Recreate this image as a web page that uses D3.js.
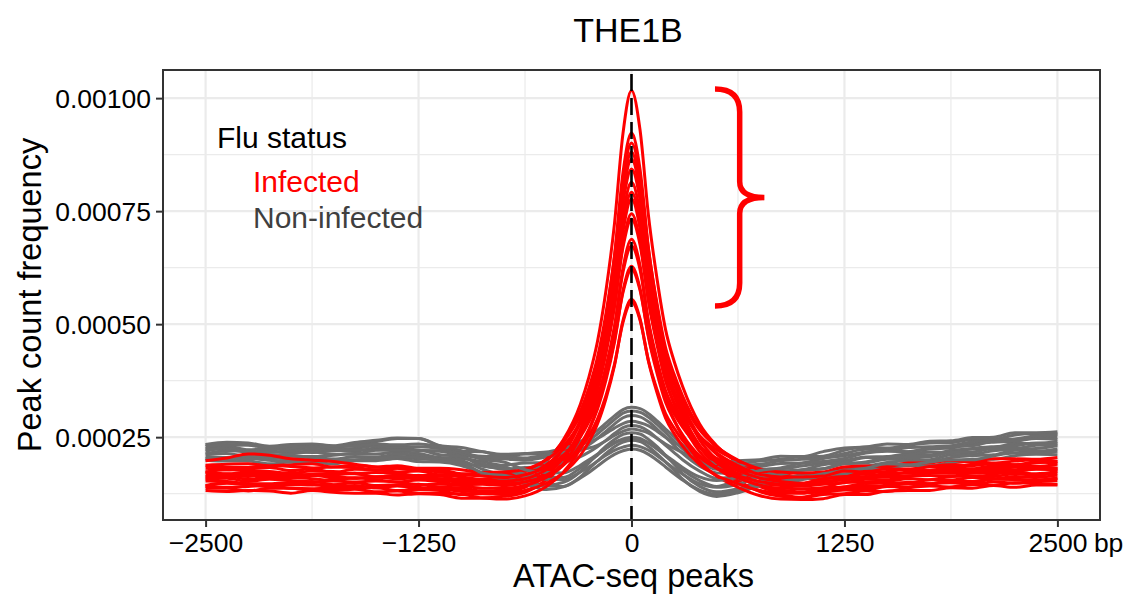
<!DOCTYPE html>
<html>
<head>
<meta charset="utf-8">
<script src="https://cdn.jsdelivr.net/npm/d3@7"></script>
<style>
body { margin: 0; background: #fff; }
text { font-family: "Liberation Sans", Arial, Helvetica, sans-serif; }
</style>
</head>
<body>
<svg id="chart" width="1126" height="597"></svg>
<script>
// distance from the peak centre (bp) at which every profile is sampled
var positions = [-2500,-2375,-2250,-2125,-2000,-1875,-1750,-1625,-1500,-1375,-1250,-1125,-1000,-875,-750,
  -625,-500,-400,-300,-250,-200,-150,-100,-50,0,50,100,150,200,250,300,400,500,625,750,875,
  1000,1125,1250,1375,1500,1625,1750,1875,2000,2125,2250,2375,2500];

// peak count frequency values are written in units of 1e-5
var UNIT = 1e-5;

// infected samples (red)
var inf01 = [17.3,16.9,17.3,16.9,17.0,16.5,16.7,17.0,16.2,16.6,16.2,16.4,15.4,15.4,15.4, 16.5,19.7,24.4,32.3,38.3,46.1,57.4,72.2,92.2,101.7,93.0,73.9,60.0,48.8,41.8,36.2,27.9,23.1,19.3,16.7,15.5, 14.8,15.8,16.1,16.9,16.5,17.3,17.2,17.9,17.7,18.2,17.8,18.3,18.1];
var inf02 = [14.3,14.9,14.5,14.1,14.5,14.4,14.4,14.0,14.1,14.3,13.5,13.7,13.0,13.1,12.9, 13.9,16.8,21.2,28.4,34.0,41.2,51.6,65.1,83.5,92.3,84.3,66.7,53.9,43.6,37.2,32.0,24.4,20.0,16.5,14.1,12.9, 12.7,12.9,14.0,13.7,14.4,15.0,14.7,15.3,15.2,15.8,15.6,15.4,16.0];
var inf03 = [18.1,17.8,18.1,18.3,17.6,18.0,17.2,17.9,17.8,17.3,17.5,16.7,16.7,16.5,16.4, 17.3,20.0,24.1,30.7,35.9,42.6,52.3,64.9,81.9,90.1,82.7,66.4,54.5,44.8,38.9,34.1,27.0,22.9,19.7,17.4,16.4, 15.9,16.7,16.9,17.7,18.1,17.9,18.5,18.3,19.0,19.1,18.9,19.5,19.2];
var inf04 = [13.7,13.7,13.1,13.7,13.7,13.2,13.2,13.5,12.9,13.1,12.6,12.6,12.4,11.6,11.9, 12.8,15.6,19.8,26.7,32.1,39.0,49.0,62.0,79.7,88.1,80.4,63.6,51.3,41.3,35.2,30.2,22.9,18.7,15.3,13.0,11.9, 11.6,12.3,12.5,13.1,13.0,13.8,14.2,14.0,14.5,14.3,14.9,14.8,14.6];
var inf05 = [16.2,16.8,16.7,16.3,16.4,16.7,16.0,15.9,16.2,16.0,16.1,15.3,15.3,14.9,14.9, 15.7,18.4,22.3,28.8,33.9,40.4,49.7,62.0,78.6,86.5,79.3,63.4,51.9,42.5,36.8,32.1,25.2,21.2,18.1,15.9,14.9, 14.7,14.8,15.8,16.3,16.2,16.3,17.1,17.2,17.1,17.8,17.5,17.9,17.9];
var inf06 = [18.7,18.3,18.3,18.8,18.5,18.2,18.4,18.3,17.7,18.1,17.7,17.8,16.9,16.9,16.8, 17.7,20.1,23.9,30.0,34.7,40.8,49.7,61.2,76.8,84.3,77.5,62.6,51.7,42.9,37.4,33.0,26.6,22.9,19.9,17.8,16.8, 16.3,17.1,18.0,17.8,18.5,18.7,18.6,19.3,19.6,19.3,19.7,20.0,19.7];
var inf07 = [15.3,15.2,14.7,14.7,15.0,15.2,14.5,14.9,14.3,14.5,14.6,13.9,13.8,13.1,13.3, 14.2,16.7,20.4,26.6,31.4,37.6,46.5,58.1,73.9,81.4,74.6,59.5,48.5,39.6,34.1,29.7,23.2,19.4,16.4,14.3,13.3, 12.9,13.7,14.0,14.8,14.9,14.8,15.6,15.5,16.1,15.8,16.3,16.1,16.6];
var inf08 = [17.3,17.8,17.7,17.4,17.0,17.5,17.4,17.0,17.2,17.0,16.5,16.7,16.2,15.7,15.8, 16.6,18.9,22.4,28.2,32.6,38.4,46.7,57.5,72.2,79.2,72.8,58.8,48.6,40.3,35.2,31.0,25.0,21.5,18.7,16.7,15.8, 15.8,15.9,16.5,17.2,17.4,17.9,17.7,18.2,18.0,18.7,18.7,18.5,19.0];
var inf09 = [14.1,13.9,14.1,14.3,13.7,13.6,13.8,13.8,13.8,13.2,13.4,13.2,12.3,12.5,12.3, 13.1,15.5,19.1,25.1,29.7,35.6,44.1,55.3,70.5,77.7,71.1,56.6,46.1,37.6,32.3,28.0,21.8,18.2,15.3,13.2,12.3, 11.7,12.7,13.3,13.3,14.1,14.0,14.6,14.9,14.6,15.1,14.8,15.4,15.4];
var inf10 = [15.9,16.4,15.7,16.1,16.1,15.8,15.4,16.0,15.6,15.1,15.5,15.1,14.5,14.6,14.3, 15.0,17.2,20.6,26.0,30.2,35.7,43.5,53.8,67.7,74.4,68.4,55.0,45.4,37.5,32.7,28.7,23.0,19.6,17.0,15.1,14.3, 14.2,14.6,14.9,15.7,15.6,16.4,16.5,16.4,17.1,16.9,17.3,16.9,17.4];
var inf11 = [18.8,19.0,19.1,18.7,18.9,19.1,18.4,18.8,18.4,18.7,18.1,18.1,17.8,17.2,17.3, 17.9,20.0,23.1,28.2,32.1,37.2,44.5,54.1,67.0,73.2,67.6,55.2,46.2,38.9,34.4,30.7,25.3,22.2,19.8,18.0,17.3, 17.1,17.3,18.4,18.6,18.5,19.3,19.3,19.9,19.6,20.2,20.2,20.1,20.5];
var inf12 = [13.2,13.0,13.2,13.1,12.6,13.2,12.8,12.6,12.6,12.2,12.5,12.3,11.5,11.5,11.3, 12.0,14.1,17.3,22.5,26.5,31.7,39.3,49.1,62.4,68.8,63.0,50.3,41.0,33.5,28.8,25.1,19.6,16.4,13.9,12.1,11.3, 11.2,11.4,12.3,12.3,13.1,13.2,13.2,13.8,13.7,14.3,13.9,14.4,14.4];
var inf13 = [17.3,16.8,17.0,17.2,16.6,16.8,16.9,16.9,16.2,16.5,16.5,15.8,15.7,15.5,15.3, 15.8,17.8,20.7,25.4,29.0,33.8,40.6,49.5,61.5,67.3,62.1,50.5,42.1,35.3,31.1,27.7,22.8,19.9,17.6,16.0,15.2, 14.8,15.8,16.3,16.2,17.0,17.0,17.7,17.4,17.9,17.9,18.4,18.4,18.1];
var inf14 = [15.6,15.9,15.2,15.7,15.4,15.1,15.3,15.1,15.3,15.1,14.5,14.6,14.3,13.7,13.7, 14.3,16.1,18.8,23.3,26.7,31.2,37.6,46.0,57.4,62.8,57.9,47.0,39.1,32.7,28.7,25.5,20.8,18.1,16.0,14.4,13.7, 13.6,13.8,15.0,15.1,15.2,15.8,15.6,16.3,16.4,16.3,16.9,16.6,17.0];
var inf15 = [19.8,20.4,21.3,21.0,20.2,19.9,19.6,19.0,18.4,18.1,17.8,17.3,16.8,16.4,16.1, 16.7,18.4,21.0,25.1,28.4,32.5,38.5,46.4,57.0,62.1,57.5,47.3,39.9,33.9,30.2,27.2,22.8,20.3,18.3,16.8,16.2, 16.2,16.4,17.5,17.3,18.0,17.8,18.5,18.9,18.7,19.2,18.9,19.3,19.6];
var inf16 = [14.2,14.8,14.5,14.4,14.6,14.6,13.9,14.3,13.8,14.2,13.9,13.4,13.3,12.6,12.7, 13.2,14.8,17.1,21.0,24.0,27.9,33.5,40.8,50.8,55.5,51.2,41.7,34.8,29.2,25.8,23.0,18.9,16.5,14.7,13.2,12.6, 12.6,13.2,13.5,14.3,14.2,14.7,14.7,15.4,15.0,15.7,15.7,15.5,15.9];
var inf17 = [16.7,16.4,16.3,16.8,16.1,16.5,16.4,15.9,16.2,15.8,16.0,15.8,14.9,14.9,14.7, 15.1,16.6,18.9,22.5,25.3,29.0,34.2,41.1,50.4,54.9,50.9,41.9,35.5,30.2,27.0,24.3,20.5,18.2,16.5,15.2,14.6, 14.4,15.3,15.5,16.1,16.5,16.4,17.2,17.0,17.5,17.2,17.7,18.0,17.6];

// non-infected samples (grey)
var non01 = [23.4,23.1,23.4,22.5,22.9,23.4,22.7,23.4,24.0,24.7,24.7,23.1,21.9, 21.8,20.7,21.3,21.2,22.6,24.0,25.2,26.5,28.1,29.7,31.1,31.6,31.3,30.2,28.6,26.8,25.1,23.3,20.6,18.9,19.1,19.7,20.1, 20.7,20.8,22.1,22.8,22.6,23.2,23.7,23.8,24.5,24.5,25.5,25.8,25.7];
var non02 = [21.9,22.6,22.1,22.0,21.4,22.0,22.1,21.9,22.6,22.6,22.0,22.0,21.2, 20.3,20.2,19.9,20.6,21.2,23.1,24.3,25.7,27.3,28.9,30.3,30.8,30.5,29.4,27.8,26.0,24.2,22.4,19.6,17.9,18.3,18.5,19.2, 19.3,20.3,20.9,21.7,22.1,21.8,22.4,22.6,23.5,23.9,24.1,25.0,25.0];
var non03 = [21.3,21.4,20.7,21.1,20.8,20.7,21.0,21.4,21.3,21.7,21.4,20.5,20.3, 19.6,18.8,19.3,19.4,20.5,22.1,23.3,24.7,26.3,27.9,29.3,29.8,29.5,28.4,26.8,25.0,23.2,21.4,18.6,17.1,16.9,17.9,18.0, 18.6,19.3,19.8,20.6,20.7,21.3,21.1,22.1,22.4,22.6,23.6,23.6,24.1];
var non04 = [23.4,23.9,23.7,23.0,23.4,23.5,23.1,23.8,24.3,24.8,24.7,23.1,22.7, 21.8,21.2,21.4,21.7,22.5,23.5,23.9,24.7,25.8,27.0,28.0,28.5,28.2,27.5,26.3,25.0,23.8,22.8,20.7,19.2,19.8,20.0,20.8, 20.7,21.8,22.6,22.8,23.5,23.4,24.1,24.2,24.9,25.0,26.0,26.0,26.2];
var non05 = [20.3,20.1,20.3,19.9,19.6,20.1,20.1,19.9,20.5,20.7,20.2,20.1,19.0, 18.7,17.9,18.3,18.4,19.4,20.7,21.7,22.9,24.3,25.8,27.1,27.6,27.3,26.3,24.8,23.2,21.6,20.0,17.5,15.9,16.3,16.6,17.2, 17.7,18.0,19.2,19.3,20.1,20.1,20.0,21.1,21.2,22.0,22.4,22.5,23.1];
var non06 = [22.5,23.0,22.2,22.5,22.5,22.2,22.4,22.5,23.1,22.8,22.9,22.5,21.4, 20.8,20.7,20.4,21.1,21.6,22.3,22.6,23.2,24.2,25.4,26.3,26.8,26.5,25.9,24.7,23.5,22.5,21.6,19.7,18.3,18.8,19.0,19.8, 20.1,20.4,21.4,22.3,22.1,22.7,22.9,23.1,24.0,24.4,24.6,25.3,25.6];
var non07 = [20.8,20.5,20.6,20.5,20.1,20.7,20.1,20.7,20.6,21.2,20.9,20.1,19.8, 17.9,16.6,15.7,14.4,15.0,17.4,19.3,21.2,23.0,24.5,25.6,26.0,25.7,24.5,22.9,21.0,19.0,16.9,14.1,12.9,13.6,15.2,15.7, 16.7,17.1,18.3,18.6,19.4,19.8,19.6,20.5,20.9,21.1,22.1,21.9,22.4];
var non08 = [22.2,22.5,21.8,21.7,22.0,21.6,22.0,22.2,22.2,22.8,22.1,21.9,20.8, 19.1,18.5,16.8,16.2,16.1,18.2,19.6,21.0,22.5,23.8,24.6,25.0,24.7,23.7,22.4,20.8,19.3,17.7,15.4,14.1,15.5,16.3,17.5, 17.8,18.9,19.4,20.5,20.5,21.2,21.7,21.6,22.5,22.9,23.1,23.7,23.6];
var non09 = [19.9,19.7,19.7,19.1,19.5,19.5,19.1,19.8,19.8,20.3,19.6,19.5,18.7, 16.9,15.6,14.7,13.4,14.0,16.2,18.0,19.7,21.4,22.9,23.9,24.3,24.0,22.9,21.3,19.5,17.7,15.7,13.0,11.9,12.7,14.2,14.7, 15.6,16.4,16.8,18.1,18.2,18.8,18.7,19.4,20.1,20.1,20.9,21.2,21.1];
var non10 = [21.3,22.0,21.7,21.1,21.3,21.7,21.2,21.3,22.1,22.1,22.1,21.1,20.7, 18.6,18.0,16.3,15.7,15.6,17.3,18.4,19.7,21.0,22.1,22.8,23.2,22.9,22.1,20.9,19.5,18.1,16.8,14.7,13.9,14.6,16.2,16.7, 17.7,18.0,19.1,19.5,20.5,20.7,20.7,21.6,21.7,22.5,22.5,23.2,23.3];
var non11 = [20.2,20.1,20.3,20.0,19.5,20.0,20.1,20.0,20.2,20.6,20.5,19.7,19.3, 17.1,16.4,14.8,14.2,14.1,16.0,17.2,18.6,20.0,21.2,22.0,22.4,22.1,21.2,19.9,18.4,16.9,15.5,13.3,12.4,13.1,14.7,15.2, 15.9,16.9,17.6,18.1,19.1,18.9,19.5,20.0,20.0,20.9,21.5,21.4,21.9];
var non12 = [22.9,23.4,23.2,22.7,23.0,22.7,23.0,23.0,23.5,23.3,23.5,22.9,22.0, 20.1,19.5,17.8,17.2,17.1,18.8,20.0,21.2,22.5,23.7,24.4,24.8,24.5,23.7,22.4,21.0,19.7,18.3,16.2,15.4,16.1,17.6,18.2, 19.2,19.6,20.3,21.5,21.9,21.8,22.6,22.9,23.1,24.1,24.2,24.7,24.5];

var infected = [inf01,inf02,inf03,inf04,inf05,inf06,inf07,inf08,inf09,inf10,inf11,inf12,inf13,inf14,inf15,inf16,inf17];
var nonInfected = [non01,non02,non03,non04,non05,non06,non07,non08,non09,non10,non11,non12];

// axis ticks
var xTicks = [-2500,-1250,0,1250,2500];
var yTicks = [0.00025,0.00050,0.00075,0.00100];
var yTickLabels = ["0.00025","0.00050","0.00075","0.00100"];

// bracket next to the infected peaks: value range and bp positions (tip, stem, point)
var braceValues = [0.00054, 0.00102];
var braceBp = [490, 635, 780];

var groupColors = {"Infected": "#FF0000", "Non-infected": "#6E6E6E"};

var svg = d3.select("#chart");
var panel = {left: 163, top: 70, right: 1100, bottom: 520};

// ggplot style 5% expansion of the data range
var xExt = d3.extent(positions);
var xPad = (xExt[1] - xExt[0]) * 0.05;
var x = d3.scaleLinear().domain([xExt[0] - xPad, xExt[1] + xPad]).range([panel.left, panel.right]);

var allVals = [];
infected.concat(nonInfected).forEach(function(s) {
	s.forEach(function(v) { allVals.push(v * UNIT); });
});
var yExt = d3.extent(allVals);
var yPad = (yExt[1] - yExt[0]) * 0.05;
var y = d3.scaleLinear().domain([yExt[0] - yPad, yExt[1] + yPad]).range([panel.bottom, panel.top]);

//Minor grid lines sit half way between the major ticks
function minorTicks(ticks, domain) {
	var step = ticks[1] - ticks[0];
	var out = [];
	for (var i = -1; i < ticks.length; i++) {
		var m = ticks[0] + step * (i + 0.5);
		if (m > domain[0] && m < domain[1]) out.push(m);
	}
	return out;
}

var grid = svg.append("g");
grid.selectAll(".xminor").data(minorTicks(xTicks, x.domain())).enter().append("line")
	.attr("x1", function(d) { return x(d); }).attr("x2", function(d) { return x(d); })
	.attr("y1", panel.top).attr("y2", panel.bottom)
	.attr("stroke", "#EBEBEB").attr("stroke-width", 1.2);
grid.selectAll(".yminor").data(minorTicks(yTicks, y.domain())).enter().append("line")
	.attr("y1", function(d) { return y(d); }).attr("y2", function(d) { return y(d); })
	.attr("x1", panel.left).attr("x2", panel.right)
	.attr("stroke", "#EBEBEB").attr("stroke-width", 1.2);
grid.selectAll(".xmajor").data(xTicks).enter().append("line")
	.attr("x1", function(d) { return x(d); }).attr("x2", function(d) { return x(d); })
	.attr("y1", panel.top).attr("y2", panel.bottom)
	.attr("stroke", "#EBEBEB").attr("stroke-width", 2.2);
grid.selectAll(".ymajor").data(yTicks).enter().append("line")
	.attr("y1", function(d) { return y(d); }).attr("y2", function(d) { return y(d); })
	.attr("x1", panel.left).attr("x2", panel.right)
	.attr("stroke", "#EBEBEB").attr("stroke-width", 2.2);

//Profile lines, interleaving the two groups like the sample order
var line = d3.line()
	.x(function(d, i) { return x(positions[i]); })
	.y(function(d) { return y(d * UNIT); })
	.curve(d3.curveMonotoneX);

var series = [];
var n = Math.max(infected.length, nonInfected.length);
for (var i = 0; i < n; i++) {
	if (i < infected.length) series.push({group: "Infected", values: infected[i]});
	if (i < nonInfected.length) series.push({group: "Non-infected", values: nonInfected[i]});
}
svg.append("g").selectAll("path").data(series).enter().append("path")
	.attr("d", function(d) { return line(d.values); })
	.attr("fill", "none")
	.attr("stroke", function(d) { return groupColors[d.group]; })
	.attr("stroke-width", 3)
	.attr("stroke-linejoin", "round");

// dashed line at the peak centre
svg.append("line")
	.attr("x1", x(0)).attr("x2", x(0))
	.attr("y1", panel.top + 4).attr("y2", panel.bottom)
	.attr("stroke", "#000").attr("stroke-width", 2.6)
	.attr("stroke-dasharray", "17,7");

// bracket
var bx0 = x(braceBp[0]), bx1 = x(braceBp[1]), bx2 = x(braceBp[2]);
var byT = y(braceValues[1]), byB = y(braceValues[0]), byM = (byT + byB) / 2;
var brace = d3.path();
brace.moveTo(bx0, byT);
brace.quadraticCurveTo(bx1, byT, bx1, byT + 23);
brace.lineTo(bx1, byM - 16);
brace.quadraticCurveTo(bx1, byM, bx2, byM);
brace.quadraticCurveTo(bx1, byM, bx1, byM + 16);
brace.lineTo(bx1, byB - 23);
brace.quadraticCurveTo(bx1, byB, bx0, byB);
svg.append("path").attr("d", brace.toString())
	.attr("fill", "none").attr("stroke", "#FF0000").attr("stroke-width", 5.5);

// panel border
svg.append("rect")
	.attr("x", panel.left).attr("y", panel.top)
	.attr("width", panel.right - panel.left).attr("height", panel.bottom - panel.top)
	.attr("fill", "none").attr("stroke", "#333333").attr("stroke-width", 2);

// axes
var xAxis = svg.append("g")
	.attr("transform", "translate(0," + panel.bottom + ")")
	.call(d3.axisBottom(x).tickValues(xTicks).tickSize(7).tickPadding(5).tickFormat(d3.format("d")));
var yAxis = svg.append("g")
	.attr("transform", "translate(" + panel.left + ",0)")
	.call(d3.axisLeft(y).tickValues(yTicks).tickSize(7).tickPadding(5)
		.tickFormat(function(d, i) { return yTickLabels[i]; }));
[xAxis, yAxis].forEach(function(a) {
	a.select(".domain").remove();
	a.selectAll(".tick line").attr("stroke", "#333333").attr("stroke-width", 2);
	a.selectAll(".tick text").attr("fill", "#000").style("font-size", "26.5px")
		.style("font-family", "'Liberation Sans', Arial, sans-serif");
});
yAxis.selectAll(".tick text").attr("dy", "0.36em");
xAxis.selectAll(".tick text").attr("dy", "0.76em");

// unit after the last x label
var lastLabel = xAxis.selectAll(".tick text").filter(function(d) { return d === 2500; });
var lastW = lastLabel.node().getComputedTextLength();
xAxis.append("text")
	.attr("x", x(2500) + lastW / 2 + 7)
	.attr("y", 12)
	.attr("dy", "0.76em")
	.attr("text-anchor", "start")
	.attr("fill", "#000")
	.style("font-size", "26.5px")
	.text("bp");

// titles
svg.append("text")
	.attr("x", 628).attr("y", 42)
	.attr("text-anchor", "middle")
	.style("font-size", "34px")
	.text("THE1B");
svg.append("text")
	.attr("x", (panel.left + panel.right) / 2 + 2).attr("y", 587)
	.attr("text-anchor", "middle")
	.style("font-size", "32.5px")
	.text("ATAC-seq peaks");
svg.append("text")
	.attr("transform", "translate(41," + ((panel.top + panel.bottom) / 2) + ") rotate(-90)")
	.attr("text-anchor", "middle")
	.style("font-size", "32.5px")
	.text("Peak count frequency");

// legend (text only, coloured by group)
var legend = svg.append("g").attr("transform", "translate(" + (panel.left + 54) + "," + panel.top + ")");
legend.append("text").attr("x", 0).attr("y", 78).style("font-size", "30px").attr("fill", "#000").text("Flu status");
legend.append("text").attr("x", 36).attr("y", 122).style("font-size", "30px").attr("fill", "#FF0000").text("Infected");
legend.append("text").attr("x", 36).attr("y", 158).style("font-size", "30px").attr("fill", "#3F3F3F").text("Non-infected");
</script>
</body>
</html>
